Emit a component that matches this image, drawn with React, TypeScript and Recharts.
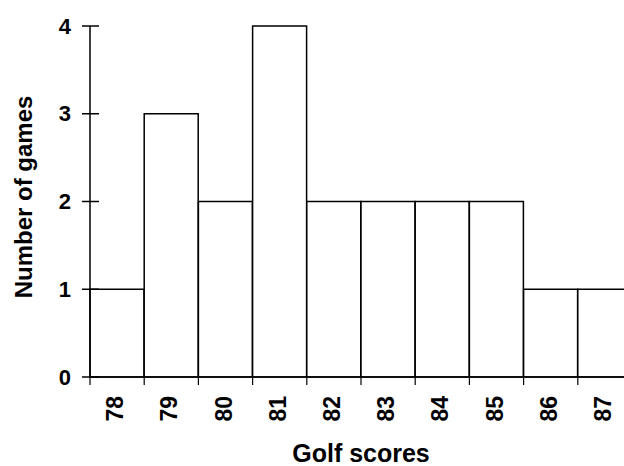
import React from 'react';
import { BarChart, Bar, XAxis, YAxis, Label } from 'recharts';

const scores = ['78', '79', '80', '81', '82', '83', '84', '85', '86', '87'];
const games = [1, 3, 2, 4, 2, 2, 2, 2, 1, 1];
const yTicks = [0, 1, 2, 3, 4];

const data = scores.map((s, i) => ({ score: s, games: games[i] }));

const CHART_W = 660;
const CHART_H = 466;
const MARGIN = { top: 26, right: 28, left: 0, bottom: 0 };
const Y_AXIS_W = 90;
const X_AXIS_H = 89;
const BAND = (CHART_W - MARGIN.left - MARGIN.right - Y_AXIS_W) / scores.length;
const FONT = '"Liberation Sans", Arial, Helvetica, sans-serif';

const XTick = (props: any) => {
  const { x, y, payload } = props;
  return (
    <g>
      <line x1={x - BAND / 2} x2={x - BAND / 2} y1={y} y2={y + 8} stroke="#000" strokeWidth={1.2} />
      <text
        transform={`translate(${x - 2},${y + 19}) rotate(-90)`}
        textAnchor="end"
        dominantBaseline="central"
        fontFamily={FONT}
        fontWeight="bold"
        fontSize={23}
        fill="#000"
      >
        {payload.value}
      </text>
    </g>
  );
};

const YTick = (props: any) => {
  const { x, y, payload } = props;
  return (
    <g>
      <line x1={x - 8} x2={x + 9} y1={y} y2={y} stroke="#000" strokeWidth={1.5} />
      <text
        x={x - 19}
        y={y}
        textAnchor="end"
        dominantBaseline="central"
        fontFamily={FONT}
        fontWeight="bold"
        fontSize={22}
        fill="#000"
      >
        {payload.value}
      </text>
    </g>
  );
};

const YTitle = () => (
  <text
    x={23}
    y={197}
    transform="rotate(-90, 23, 197)"
    textAnchor="middle"
    dominantBaseline="central"
    fontFamily={FONT}
    fontWeight="bold"
    fontSize={24}
    fill="#000"
  >
    Number of games
  </text>
);

export default function App() {
  return (
    <div
      style={{
        position: 'fixed',
        left: 0,
        top: 0,
        width: 624,
        height: 466,
        overflow: 'hidden',
        background: '#fff',
      }}
    >
      <BarChart
        width={CHART_W}
        height={CHART_H}
        data={data}
        margin={MARGIN}
        barCategoryGap={0}
        barGap={0}
      >
        <XAxis
          dataKey="score"
          height={X_AXIS_H}
          axisLine={{ stroke: '#000', strokeWidth: 1.5 }}
          tickLine={false}
          tickSize={0}
          tickMargin={0}
          tick={<XTick />}
          interval={0}
        >
          <Label
            value="Golf scores"
            position="insideBottom"
            offset={4}
            style={{ fontFamily: FONT, fontWeight: 'bold', fontSize: 25, fill: '#000' }}
          />
        </XAxis>
        <YAxis
          width={Y_AXIS_W}
          domain={[0, 4]}
          ticks={yTicks}
          allowDecimals={false}
          axisLine={{ stroke: '#000', strokeWidth: 1.5 }}
          tickLine={false}
          tickSize={0}
          tickMargin={0}
          tick={<YTick />}
          interval={0}
        >
          <Label content={<YTitle />} />
        </YAxis>
        <Bar
          dataKey="games"
          fill="#fff"
          stroke="#000"
          strokeWidth={1.5}
          isAnimationActive={false}
        />
      </BarChart>
    </div>
  );
}
